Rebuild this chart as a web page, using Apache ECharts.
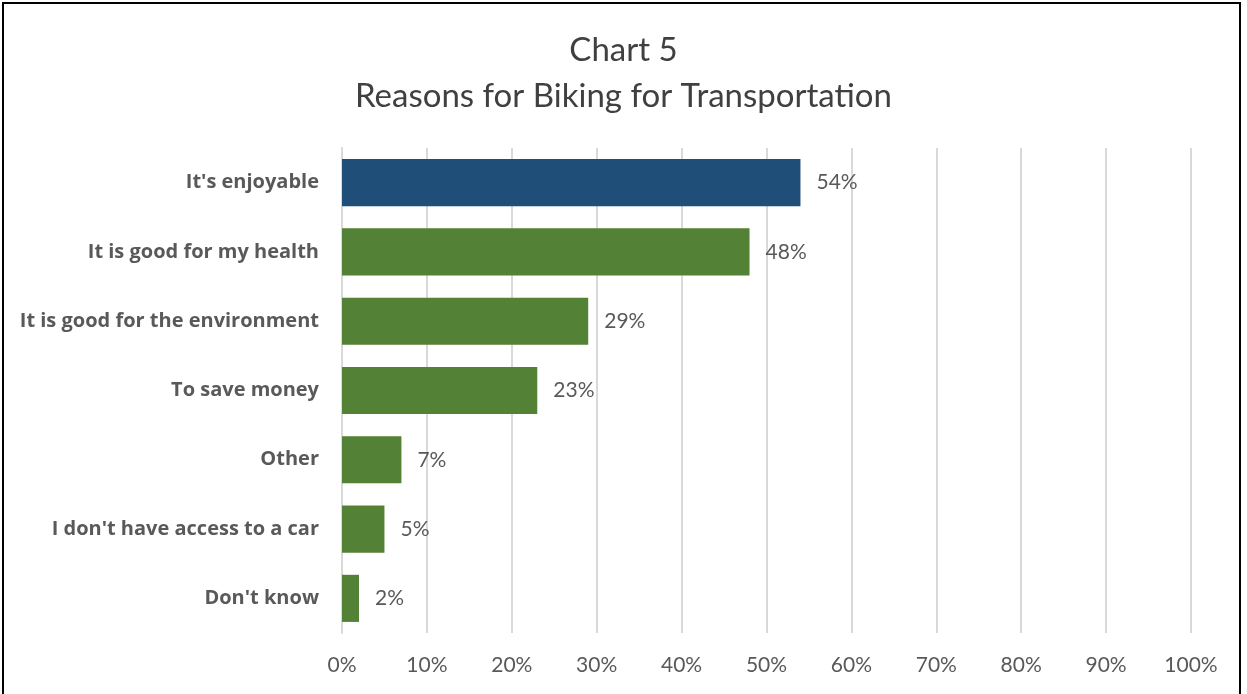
<!DOCTYPE html>
<html>
<head>
<meta charset="utf-8">
<script src="https://cdn.jsdelivr.net/npm/echarts@6/dist/echarts.min.js"></script>
<style>
  html, body { margin: 0; padding: 0; background: #fff; }
  #frame { position: absolute; left: 2px; top: 2px; width: 1239px; height: 700px; border: 2px solid #000; box-sizing: border-box; }
  #chart { position: absolute; left: 0; top: 0; width: 1247px; height: 694px; }
</style>
</head>
<body>
<div id="chart"></div>
<div id="frame"></div>
<script>
// Survey answers, listed top to bottom
const categories = [
  "It's enjoyable",
  "It is good for my health",
  "It is good for the environment",
  "To save money",
  "Other",
  "I don't have access to a car",
  "Don't know"
];
const shares = [54, 48, 29, 23, 7, 5, 2];
const tickLabels = ["0%", "10%", "20%", "30%", "40%", "50%", "60%", "70%", "80%", "90%", "100%"];

const FONT = "Lato, 'Open Sans', sans-serif";
const BOLD_FONT = "'Open Sans', Lato, sans-serif";
const BLUE = '#1F4E79';
const GREEN = '#538135';

const chart = echarts.init(document.getElementById('chart'), null, { renderer: 'canvas' });
chart.setOption({
  animation: false,
  backgroundColor: '#fff',
  title: {
    text: 'Chart 5\nReasons for Biking for Transportation',
    left: 'center',
    top: 22,
    textStyle: { fontFamily: FONT, fontSize: 33, fontWeight: 'normal', color: '#404040', lineHeight: 46 }
  },
  grid: { left: 342, right: 56, top: 148, bottom: 61, containLabel: false },
  xAxis: {
    type: 'value',
    min: 0, max: 100, interval: 10,
    axisLine: { show: false },
    axisTick: { show: false },
    splitLine: { show: true, lineStyle: { color: '#d9d9d9', width: 2 } },
    axisLabel: {
      margin: 22,
      fontFamily: FONT, fontSize: 21, color: '#595959',
      formatter: v => tickLabels[Math.round(v / 10)]
    }
  },
  yAxis: {
    type: 'category',
    data: categories,
    inverse: true,
    axisLine: { show: true, lineStyle: { color: '#d9d9d9', width: 2 } },
    axisTick: { show: false },
    axisLabel: { margin: 23, fontFamily: BOLD_FONT, fontSize: 20, fontWeight: 'bold', color: '#595959' }
  },
  series: [{
    type: 'bar',
    data: shares.map((v, i) => ({ value: v, itemStyle: { color: i === 0 ? BLUE : GREEN } })),
    barCategoryGap: '32%',
    label: {
      show: true, position: 'right', distance: 16,
      fontFamily: FONT, fontSize: 21, color: '#595959',
      formatter: p => p.value + '%'
    }
  }]
});
</script>
</body>
</html>
